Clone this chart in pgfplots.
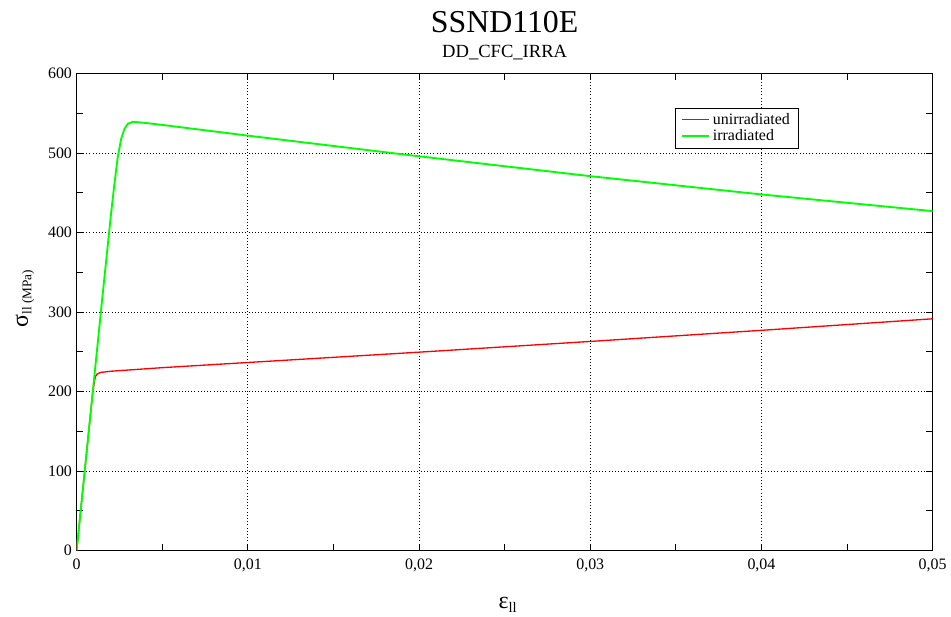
\documentclass[border=0pt]{standalone}
\usepackage{fontspec}
\setmainfont{Liberation Serif}
\usepackage{pgfplots}
\pgfplotsset{compat=1.18}

\begin{document}
\begin{tikzpicture}
% canvas: 1px = 0.75pt, axis lower-left at pixel (77,553)
\path (-57.75pt,-48pt) rectangle (655.5pt,414.75pt);
\begin{axis}[
  at={(0,0)}, anchor=south west,
  scale only axis, width=645pt, height=359.25pt,
  xmin=0, xmax=0.05, ymin=0, ymax=600,
  xtick={0,0.01,0.02,0.03,0.04,0.05},
  ytick={0,100,200,300,400,500,600},
  minor x tick num=1, minor y tick num=1,
  grid=major, major grid style={black, dotted, line width=0.7pt},
  axis line style={black, line width=0.9pt},
  tick style={black, line width=0.6pt},
  major tick length=5pt, minor tick length=5pt,
  tick align=inside,
  scaled x ticks=false,
  ticklabel style={font=\fontsize{12}{14}\selectfont},
  xticklabel style={/pgf/number format/fixed, /pgf/number format/use comma, yshift=-3pt},
  /pgf/number format/assume math mode=true,
  legend style={at={(rel axis cs:0.699,0.929)}, anchor=north west,
    font=\fontsize{12}{13}\selectfont, inner xsep=4pt, inner ysep=2pt, row sep=-1.5pt},
  legend cell align=left,
  legend image code/.code={\draw[#1] (0pt,0pt) -- (21pt,0pt);},
]
\addplot[red, line width=1pt] coordinates {
  (0,0) (0.0005,106) (0.00093,197) (0.001,207) (0.00105,214) (0.0011,219)
  (0.0012,222) (0.0014,224) (0.002,225.5) (0.005,230) (0.01,236.5)
  (0.02,249.5) (0.03,263) (0.04,277) (0.05,291.5)};
\addlegendentry{unirradiated}
\addplot[green, line width=1.4pt] coordinates {
  (0,0) (0.001,212) (0.0015,318) (0.002,422) (0.0022,460) (0.0024,495)
  (0.0026,518) (0.0028,531) (0.003,537) (0.0033,539.5) (0.004,538)
  (0.005,535.5) (0.01,522) (0.02,496) (0.03,471) (0.04,448) (0.05,427)};
\addlegendentry{irradiated}
\end{axis}
\node[font=\fontsize{24}{28}\selectfont] at (322.5pt,398pt) {SSND110E};
\node[font=\fontsize{14}{16}\selectfont] at (322.5pt,375pt) {DD\_CFC\_IRRA};
\node[rotate=90, font=\fontsize{18}{20}\selectfont] at (-39pt,190pt)
  {σ\textsubscript{\fontsize{10}{12}\selectfont ll (MPa)}};
\node[font=\fontsize{18}{20}\selectfont] at (325pt,-41pt)
  {ε\textsubscript{\fontsize{11}{12}\selectfont ll}};
\end{tikzpicture}
\end{document}
